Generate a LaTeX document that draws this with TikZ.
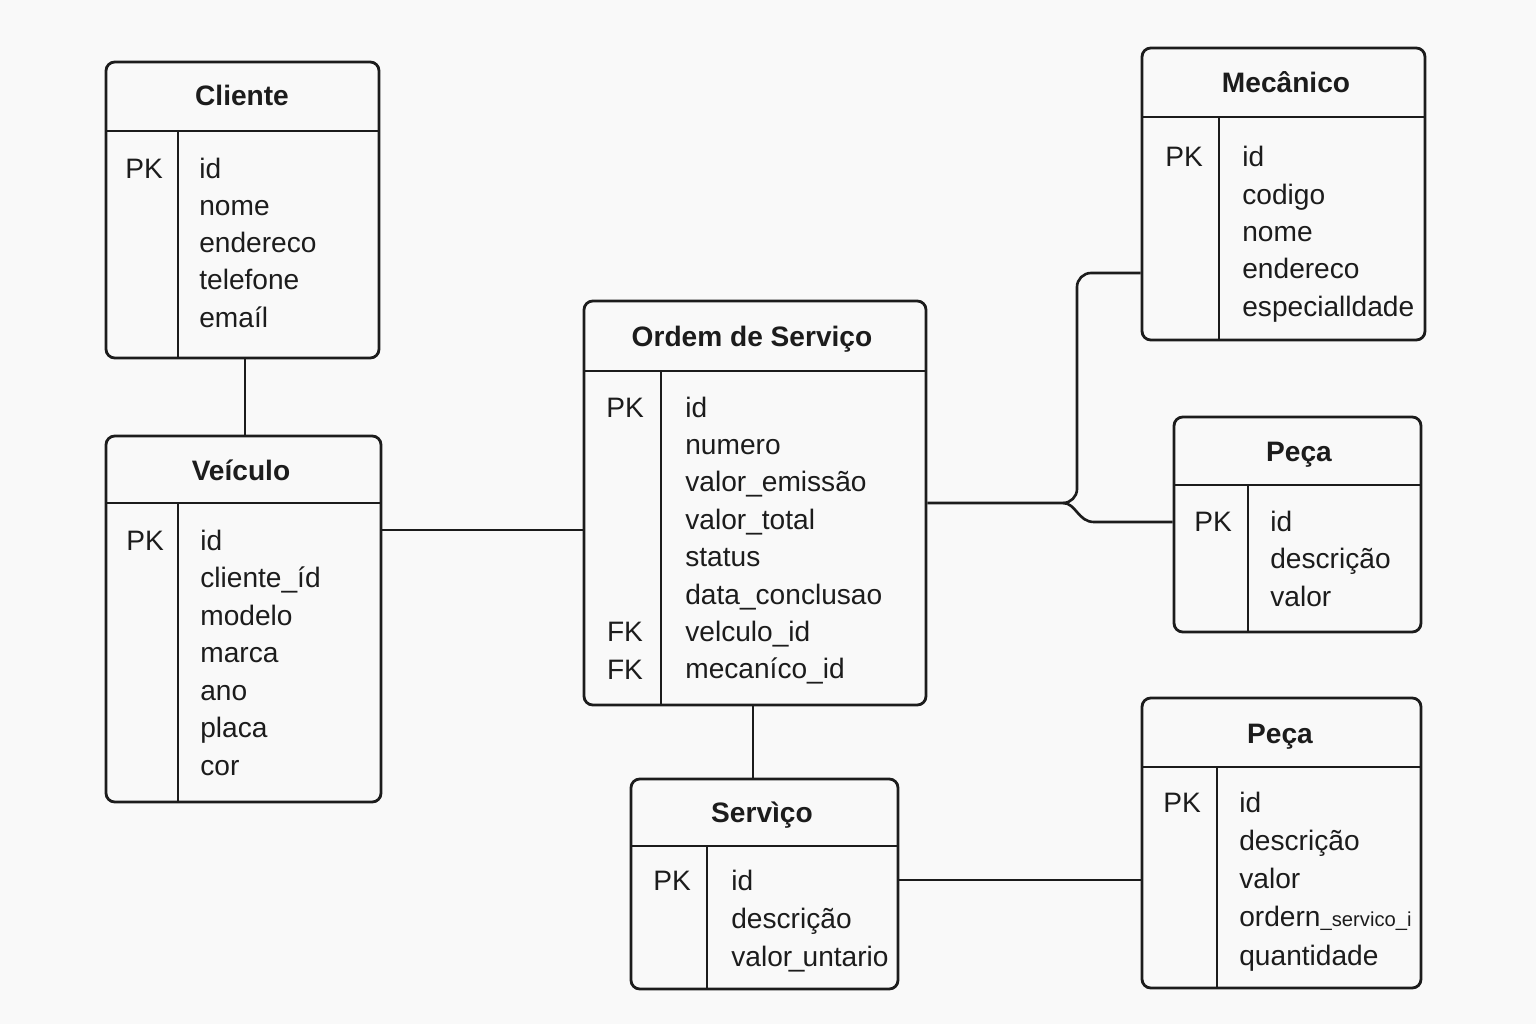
\documentclass[tikz,border=0pt]{standalone}
\usepackage{fontspec}
\setmainfont{Liberation Sans}
\usetikzlibrary{positioning,fit}
\definecolor{ink}{HTML}{1C1C1C}
\definecolor{paper}{HTML}{F9F9F9}

\tikzset{
  entity/.style={draw=ink, line width=1.6pt, rounded corners=5pt, inner sep=0pt},
  sep/.style={draw=ink, line width=1.5pt},
  keysep/.style={draw=ink, line width=0.9pt},
  title/.style={anchor=base, text=ink, font=\fontsize{16pt}{19pt}\selectfont\bfseries},
  field/.style={anchor=base west, inner sep=0pt, text=ink, font=\fontsize{16pt}{19pt}\selectfont},
  keytag/.style={anchor=base, inner sep=0pt, text=ink, font=\fontsize{16pt}{19pt}\selectfont},
  link/.style={draw=ink, line width=1.5pt}
}

\begin{document}
\begin{tikzpicture}[x=0.02cm, y=-0.02cm]

\fill[paper] (0,0) rectangle (1536,1024);
\useasboundingbox (0,0) rectangle (1536,1024);

% Cliente
\begin{scope}
\node[entity, fit={(106,62) (379,358)}] (cli) {};
\draw[sep] (106,131) -- (379,131);
\draw[keysep] (178,131) -- (178,358);
\node[title] (cli-t) at (242,106) {Cliente};
\node[keytag] (cli-k1) at (144,178) {PK};
\def\clifields{id,nome,endereco,telefone,emaíl}
\foreach \f [count=\i] in \clifields
  \node[field] (cli-f\i) at ({199},{178+(\i-1)*37.3}) {\f};
\end{scope}

% Veiculo
\begin{scope}
\node[entity, fit={(106,436) (381,802)}] (vei) {};
\draw[sep] (106,503) -- (381,503);
\draw[keysep] (178,503) -- (178,802);
\node[title] (vei-t) at (241,480) {Veículo};
\node[keytag] (vei-k1) at (145,550) {PK};
\def\veifields{id,cliente\_íd,modelo,marca,ano,placa,cor}
\foreach \f [count=\i] in \veifields
  \node[field] (vei-f\i) at ({200},{550+(\i-1)*37.5}) {\f};
\end{scope}

% Ordem de Servico
\begin{scope}
\node[entity, fit={(584,301) (926,705)}] (ord) {};
\draw[sep] (584,371) -- (926,371);
\draw[keysep] (661,371) -- (661,705);
\node[title] (ord-t) at (752,346) {Ordem de Serviço};
\node[keytag] (ord-k1) at (625,417) {PK};
\node[keytag] (ord-k7) at (625,641) {FK};
\node[keytag] (ord-k8) at (625,679) {FK};
\def\ordfields{id,numero,valor\_emissão,valor\_total,status,data\_conclusao,velculo\_id,mecaníco\_id}
\foreach \f [count=\i] in \ordfields
  \node[field] (ord-f\i) at ({685},{417+(\i-1)*37.4}) {\f};
\end{scope}

% Mecanico
\begin{scope}
\node[entity, fit={(1142,48) (1425,340)}] (mec) {};
\draw[sep] (1142,117) -- (1425,117);
\draw[keysep] (1219,117) -- (1219,340);
\node[title] (mec-t) at (1286,93) {Mecânico};
\node[keytag] (mec-k1) at (1184,167) {PK};
\def\mecfields{id,codigo,nome,endereco,especialldade}
\foreach \f [count=\i] in \mecfields
  \node[field] (mec-f\i) at ({1242},{167+(\i-1)*37.25}) {\f};
\end{scope}

% Peca (1)
\begin{scope}
\node[entity, fit={(1174,417) (1421,632)}] (pca) {};
\draw[sep] (1174,485) -- (1421,485);
\draw[keysep] (1248,485) -- (1248,632);
\node[title] (pca-t) at (1299,461) {Peça};
\node[keytag] (pca-k1) at (1213,531) {PK};
\def\pcafields{id,descrição,valor}
\foreach \f [count=\i] in \pcafields
  \node[field] (pca-f\i) at ({1270},{531+(\i-1)*37.5}) {\f};
\end{scope}

% Servico
\begin{scope}
\node[entity, fit={(631,779) (898,989)}] (srv) {};
\draw[sep] (631,846) -- (898,846);
\draw[keysep] (707,846) -- (707,989);
\node[title] (srv-t) at (762,822) {Servìço};
\node[keytag] (srv-k1) at (672,890) {PK};
\def\srvfields{id,descrição,{valor\kern-2pt\_\kern-1pt untario}}
\foreach \f [count=\i] in \srvfields
  \node[field] (srv-f\i) at ({731},{890+(\i-1)*38}) {\f};
\end{scope}

% Peca (2)
\begin{scope}
\node[entity, fit={(1142,698) (1421,988)}] (pcb) {};
\draw[sep] (1142,767) -- (1421,767);
\draw[keysep] (1217,767) -- (1217,988);
\node[title] (pcb-t) at (1280,743) {Peça};
\node[keytag] (pcb-k1) at (1182,812) {PK};
\def\pcbfields{id,descrição,valor,{ordern{\fontsize{11.5pt}{14pt}\selectfont\_servico\_i}},quantidade}
\foreach \f [count=\i] in \pcbfields
  \node[field] (pcb-f\i) at ({1239},{812+(\i-1)*38.25}) {\f};
\end{scope}

% relationships
\draw[link] (245,0 |- cli.south) -- (245,0 |- vei.north);
\draw[link] (vei.east |- 0,530) -- (ord.west |- 0,530);
\coordinate (fork) at (1063,503);
\draw[link, rounded corners=8pt] (ord.east) -- (1077,503) -- (1077,273) -- (mec.west |- 0,273);
\draw[link] (fork) .. controls (1076,503) and (1078,522) .. (1094,522) -- (pca.west |- 0,522);
\draw[link] (753,0 |- ord.south) -- (753,0 |- srv.north);
\draw[link] (srv.east |- 0,880) -- (pcb.west |- 0,880);

\end{tikzpicture}
\end{document}
